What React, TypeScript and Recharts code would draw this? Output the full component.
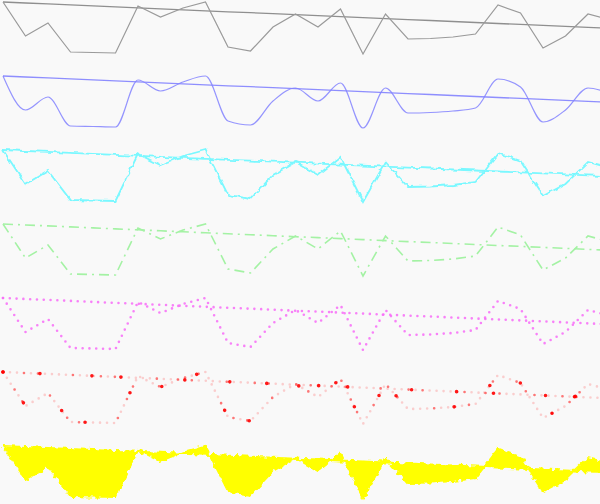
import React from 'react';
import { LineChart, ComposedChart, Line, Area, XAxis, YAxis } from 'recharts';

// point index along the x axis
const indices = [0, 1, 2, 3, 4, 5, 6, 7, 8, 9, 10, 11, 12, 13, 14, 15, 16, 17, 18, 19, 20, 21, 22, 23, 24, 25, 26, 27];
// the jagged series (same shape repeated in every row)
const values = [54, 20, 33, 4, 3.5, 3, 50, 39, 48, 54, 9, 5, 29, 42, 29, 47, 2, 42, 17, 17.5, 19, 22, 51, 43, 8, 20, 42, 36];
// the straight trend line
const trend = [54, 53, 52.1, 51.1, 50.1, 49.1, 48.2, 47.2, 46.2, 45.2, 44.2, 43.3, 42.3, 41.3, 40.4, 39.4, 38.4, 37.4, 36.4, 35.5, 34.5, 33.5, 32.5, 31.6, 30.6, 29.6, 28.6, 27.7];
// row styles, top to bottom
const rows = ['solid', 'smooth', 'sketch', 'dashdot', 'dotted', 'spray', 'fill'];

const table = indices.map((i, k) => ({ i, v: values[k], t: trend[k], range: [trend[k], values[k]] }));

const W = 600;
const ROW = 74;
const CH = 74;
const PAD = 6;

const noDot = { dot: false as const, activeDot: false as const, isAnimationActive: false };

function Row({ kind, r }: { kind: string; r: number }) {
  const common = (
    <>
      <XAxis dataKey="i" type="number" domain={[-0.133, 26.533]} allowDataOverflow hide />
      <YAxis type="number" domain={[-12, 62]} allowDataOverflow hide />
    </>
  );
  let series: React.ReactNode = null;
  if (kind === 'solid') {
    series = [
      <Line key="t" dataKey="t" type="linear" stroke="#8f8f8f" strokeWidth={1.3} {...noDot} />,
      <Line key="v" dataKey="v" type="linear" stroke="#9a9a9a" strokeWidth={1.2} {...noDot} />,
    ];
  } else if (kind === 'smooth') {
    series = [
      <Line key="t" dataKey="t" type="linear" stroke="#7b7bff" strokeWidth={1.3} strokeOpacity={0.85} {...noDot} />,
      <Line key="v" dataKey="v" type="monotone" stroke="#8282ff" strokeWidth={1.2} strokeOpacity={0.85} {...noDot} />,
    ];
  } else if (kind === 'sketch') {
    series = [
      <Line key="t" dataKey="t" type="linear" stroke="#7af8ff" strokeWidth={1.8} filter="url(#jitter)" {...noDot} />,
      <Line key="v" dataKey="v" type="linear" stroke="#7af8ff" strokeWidth={1.8} filter="url(#jitter)" {...noDot} />,
    ];
  } else if (kind === 'dashdot') {
    series = [
      <Line key="t" dataKey="t" type="linear" stroke="#a4f2a4" strokeWidth={1.6} strokeDasharray="10 5 2 5" {...noDot} />,
      <Line key="v" dataKey="v" type="linear" stroke="#a4f2a4" strokeWidth={1.6} strokeDasharray="10 5 2 5" {...noDot} />,
    ];
  } else if (kind === 'dotted') {
    series = [
      <Line key="t" dataKey="t" type="linear" stroke="#f86cf8" strokeWidth={2.6} strokeLinecap="round" strokeDasharray="0 6.8" strokeOpacity={0.85} {...noDot} />,
      <Line key="v" dataKey="v" type="linear" stroke="#f86cf8" strokeWidth={2.6} strokeLinecap="round" strokeDasharray="0 6.8" strokeOpacity={0.85} {...noDot} />,
    ];
  } else if (kind === 'spray') {
    const mk = (key: string, dk: string) => [
      <Line key={key + 'a'} dataKey={dk} type="linear" stroke="#ff3030" strokeWidth={2.6} strokeLinecap="round" strokeDasharray="0 7" strokeOpacity={0.22} {...noDot} />,
      <Line key={key + 'b'} dataKey={dk} type="linear" stroke="#ff2020" strokeWidth={2.6} strokeLinecap="round" strokeDasharray="0 21 0 14 0 35 0 28 0 14 0 42" strokeOpacity={0.5} {...noDot} />,
      <Line key={key + 'c'} dataKey={dk} type="linear" stroke="#ff0000" strokeWidth={3.6} strokeLinecap="round" strokeDasharray="0 37 0 52 0 29 0 64 0 45" strokeOpacity={0.9} {...noDot} />,
    ];
    series = [...mk('t', 't'), ...mk('v', 'v')];
  } else if (kind === 'fill') {
    series = [
      <Area key="a" dataKey="range" type="linear" stroke="#ffff00" strokeWidth={2} fill="#ffff00" fillOpacity={1} filter="url(#jitter2)" dot={false} activeDot={false} isAnimationActive={false} />,
    ];
  }
  const Chart: any = kind === 'fill' ? ComposedChart : LineChart;
  return (
    <div style={{ position: 'absolute', left: 0, top: r * ROW - PAD, width: W, height: CH }}>
      <Chart width={W} height={CH} data={table} margin={{ top: 0, right: 0, bottom: 0, left: 0 }}>
        {common}
        {series}
      </Chart>
    </div>
  );
}

export default function App() {
  return (
    <div style={{ position: 'fixed', left: 0, top: 0, width: 600, height: 504, background: '#f9f9f9', overflow: 'hidden' }}>
      <svg width={0} height={0} style={{ position: 'absolute' }}>
        <defs>
          <filter id="jitter" filterUnits="userSpaceOnUse" x={-20} y={-20} width={640} height={120}>
            <feTurbulence type="fractalNoise" baseFrequency={0.17} numOctaves={1} seed={3} result="n" />
            <feDisplacementMap in="SourceGraphic" in2="n" scale={5} xChannelSelector="R" yChannelSelector="G" />
          </filter>
          <filter id="jitter2" filterUnits="userSpaceOnUse" x={-20} y={-20} width={640} height={120}>
            <feTurbulence type="fractalNoise" baseFrequency={0.25} numOctaves={1} seed={7} result="n" />
            <feDisplacementMap in="SourceGraphic" in2="n" scale={7} xChannelSelector="R" yChannelSelector="G" />
          </filter>
        </defs>
      </svg>
      {rows.map((k, r) => (
        <Row key={k} kind={k} r={r} />
      ))}
    </div>
  );
}
